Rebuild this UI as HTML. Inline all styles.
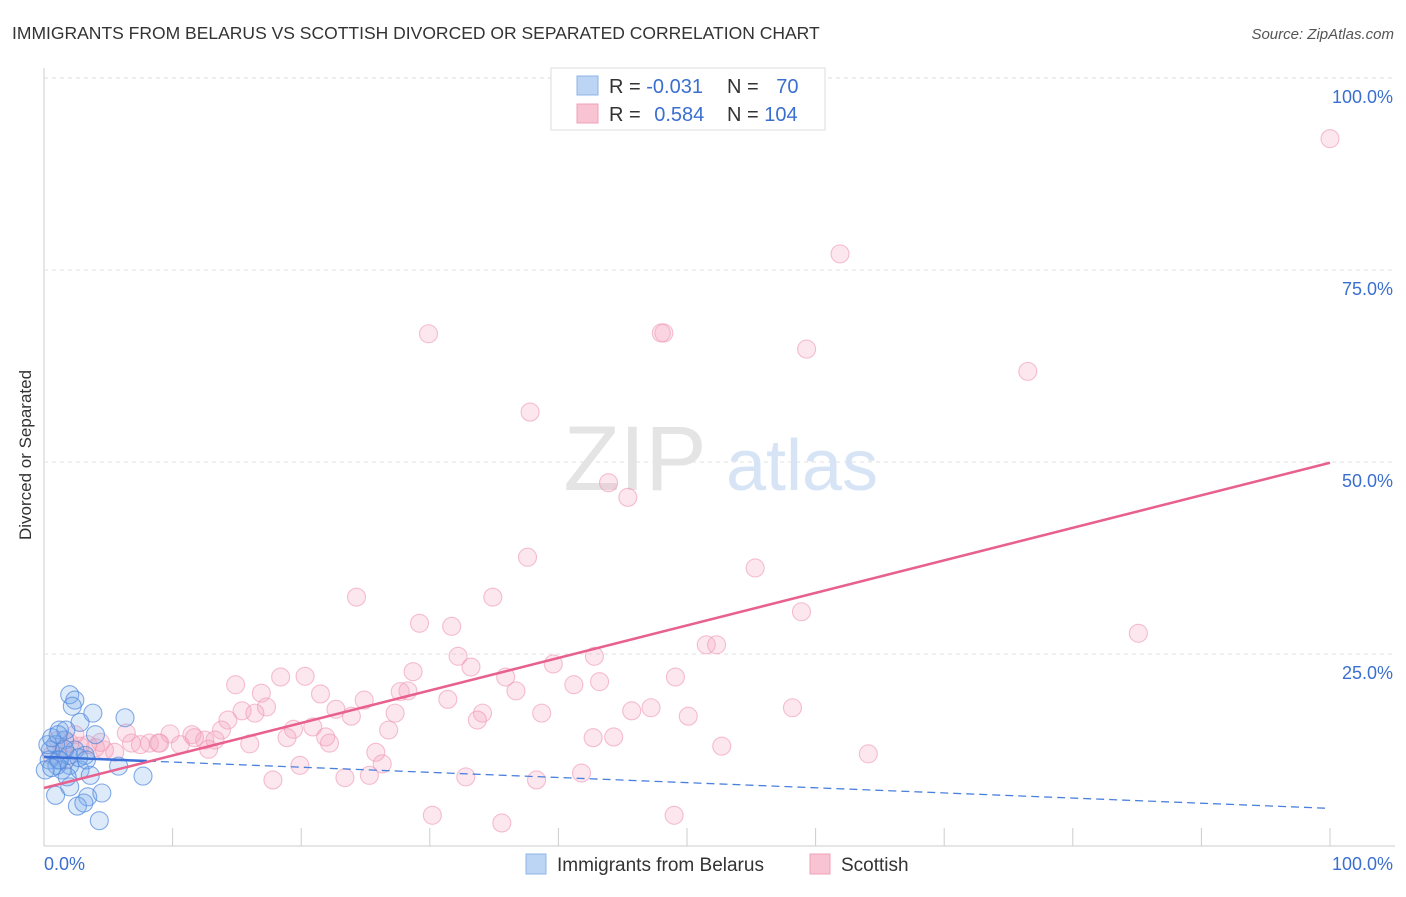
<!DOCTYPE html>
<html><head><meta charset="utf-8"><style>
body{margin:0;background:#fff;font-family:"Liberation Sans",sans-serif}
svg text{font-family:"Liberation Sans",sans-serif}
</style></head><body>
<svg id="chart" width="1406" height="892">
<text x="12" y="39" font-size="17.5" fill="#333">IMMIGRANTS FROM BELARUS VS SCOTTISH DIVORCED OR SEPARATED CORRELATION CHART</text>
<text x="1394" y="39" font-size="15" fill="#555" font-style="italic" text-anchor="end">Source: ZipAtlas.com</text>
<text x="31" y="455" font-size="17" fill="#333" text-anchor="middle" transform="rotate(-90 31 455)">Divorced or Separated</text>
<g id="grid"></g>
<g id="wm"><text x="635" y="490" font-size="92" font-family="Liberation Serif" fill="#e4e4e4" text-anchor="middle">ZIP</text><text x="802" y="490" font-size="72" fill="#d6e4f5" text-anchor="middle">atlas</text></g>
<g id="pts"></g>
<g id="lines"></g>
<g>
<rect x="551" y="68" width="274" height="62" fill="#fff" stroke="#ddd"/>
<rect x="577" y="76" width="21" height="19" fill="#bcd5f5" stroke="#8db4e8"/>
<rect x="577" y="104" width="21" height="19" fill="#f8c3d3" stroke="#f0a0b8"/>
<text x="609" y="93" font-size="20" fill="#333">R = <tspan fill="#3a6fd0">-0.031</tspan></text>
<text x="727" y="93" font-size="20" fill="#333">N = <tspan fill="#3a6fd0" dx="12">70</tspan></text>
<text x="609" y="121" font-size="20" fill="#333">R = <tspan fill="#3a6fd0" dx="8">0.584</tspan></text>
<text x="727" y="121" font-size="20" fill="#333">N = <tspan fill="#3a6fd0">104</tspan></text>
</g>
<g>
<rect x="526" y="854" width="20" height="20" fill="#bcd5f5" stroke="#8db4e8"/>
<text x="557" y="871" font-size="19" fill="#333">Immigrants from Belarus</text>
<rect x="810" y="854" width="20" height="20" fill="#f8c3d3" stroke="#f0a0b8"/>
<text x="841" y="871" font-size="19" fill="#333">Scottish</text>
</g>
</svg>
<script>
const yTicks=[25,50,75,100];
const yTickLabels=["25.0%","50.0%","75.0%","100.0%"];
const xTickLabels=["0.0%","100.0%"];
const blueX=[2.0,2.4,2.2,2.8,3.8,6.3,4.0,1.2,1.6,0.9,0.5,1.1,1.4,2.0,2.8,3.6,5.8,7.7,0.9,2.0,3.4,4.5,2.6,3.1,4.3,0.4,0.3,0.6,2.4,3.2,1.9,1.0,0.1,1.8,2.7,1.6,3.3,1.2,0.6,1.7,1.1];
const blueY=[19.7,19.0,18.2,16.1,17.3,16.7,14.5,15.1,13.8,13.2,12.5,11.2,9.9,10.5,9.9,9.2,10.4,9.1,6.6,7.7,6.4,6.9,5.2,5.6,3.3,11.2,13.2,14.1,12.5,11.8,11.8,10.5,9.9,9.0,11.5,12.6,11.2,11.2,10.2,15.1,14.5];
const pinkX=[100,61.9,29.9,48.0,48.2,59.3,76.5,37.8,43.9,45.4,37.6,55.3,24.3,34.9,58.9,29.2,31.7,85.1,51.5,52.3,32.2,42.8,33.2,39.6,28.7,20.3,18.4,35.9,49.1,43.2,41.2,14.9,16.9,21.5,36.7,27.7,28.3,31.4,24.9,17.3,22.7,15.4,16.4,45.7,47.2,34.1,38.7,58.2,50.1,23.9,27.3,33.7,14.3,19.4,20.9,26.8,13.8,6.4,9.8,11.5,18.9,21.9,44.3,42.7,16.0,22.2,12.5,13.3,52.7,64.1,25.8,12.8,6.8,8.2,8.9,17.8,19.9,23.4,25.3,26.3,32.8,38.3,41.8,30.2,35.6,49.0,1.1,2.0,2.8,4.0,4.7,5.5,1.4,2.4,3.4,4.4,0.6,1.7,7.5,9.0,10.6,11.7];
const pinkY=[92.1,77.1,66.7,66.8,66.8,64.7,61.8,56.5,47.3,45.4,37.6,36.2,32.4,32.4,30.5,29.0,28.6,27.7,26.2,26.2,24.7,24.7,23.3,23.7,22.7,22.1,22.0,22.0,22.0,21.4,21.0,21.0,19.9,19.8,20.2,20.1,20.2,19.1,19.0,18.1,17.8,17.6,17.3,17.6,18.0,17.3,17.3,18.0,16.9,16.9,17.3,16.4,16.4,15.2,15.5,15.1,15.1,14.7,14.6,14.5,14.1,14.2,14.2,14.1,13.3,13.4,13.8,13.8,13.0,12.0,12.2,12.6,13.4,13.4,13.4,8.6,10.5,8.9,9.2,10.7,9.0,8.6,9.5,4.0,3.0,4.0,13.8,13.4,13.0,12.8,12.5,12.2,12.5,14.5,13.2,13.5,11.8,11.2,13.2,13.4,13.2,14.1];
const blueTrend=[11.6,4.9];
const pinkTrend=[7.55,49.9];
const NS="http://www.w3.org/2000/svg";
const X0=44,X1=1330,Y0=846,Y1=78;
const sx=v=>X0+(X1-X0)*v/100, sy=v=>Y0-(Y0-Y1)*v/100;
function mk(t,a,p){const e=document.createElementNS(NS,t);for(const k in a)e.setAttribute(k,a[k]);p.appendChild(e);return e;}
const grid=document.getElementById('grid');
mk('line',{x1:44,y1:68,x2:44,y2:846,stroke:'#ccc'},grid);
mk('line',{x1:44,y1:846,x2:1395,y2:846,stroke:'#ccc'},grid);
mk('line',{x1:44,y1:Y1,x2:1395,y2:Y1,stroke:'#ddd','stroke-dasharray':'4,4'},grid);
yTicks.forEach((v,i)=>{
 if(v<100){const g=mk('line',{x1:44,y1:sy(v),x2:1395,y2:sy(v),stroke:'#e2e2e2','stroke-dasharray':'4,4'},grid);
 
 }
 const t=mk('text',{x:1393,y:sy(v)+25,'font-size':18,fill:'#3a6fd0','text-anchor':'end'},grid);
 t.textContent=yTickLabels[i];
 
 
});
for(let i=0;i<=10;i++){const x=sx(i*10);const l=mk('line',{x1:x,y1:828,x2:x,y2:846,stroke:'#ccc'},grid);
 
 }
[[0,'start',44],[1,'end',1393]].forEach(([i,a,x])=>{const t=mk('text',{x:x,y:870,'font-size':18,fill:'#3a6fd0','text-anchor':a},grid);t.textContent=xTickLabels[i];
 
 });
const pts=document.getElementById('pts');
pinkX.forEach((x,i)=>{const c=mk('circle',{cx:sx(x),cy:sy(pinkY[i]),r:9,fill:'rgba(244,160,188,0.25)',stroke:'rgba(238,150,180,0.6)','stroke-width':1.1},pts);
 
 });
blueX.forEach((x,i)=>{const c=mk('circle',{cx:sx(x),cy:sy(blueY[i]),r:9,fill:'rgba(120,170,235,0.25)',stroke:'rgba(80,135,220,0.7)','stroke-width':1.1},pts);
 
 });
const lines=document.getElementById('lines');
const bl=mk('line',{x1:sx(0),y1:sy(blueTrend[0]),x2:sx(100),y2:sy(blueTrend[1]),stroke:'#4a80dd','stroke-width':1.3,'stroke-dasharray':'8,5'},lines);


const bs=mk('line',{x1:sx(0),y1:sy(blueTrend[0]),x2:sx(8),y2:sy(blueTrend[0]+(blueTrend[1]-blueTrend[0])*0.08),stroke:'#3a70d8','stroke-width':2.5},lines);


const pl=mk('line',{x1:sx(0),y1:sy(pinkTrend[0]),x2:sx(100),y2:sy(pinkTrend[1]),stroke:'#e8608e','stroke-width':2.5},lines);


</script>
</body></html>
